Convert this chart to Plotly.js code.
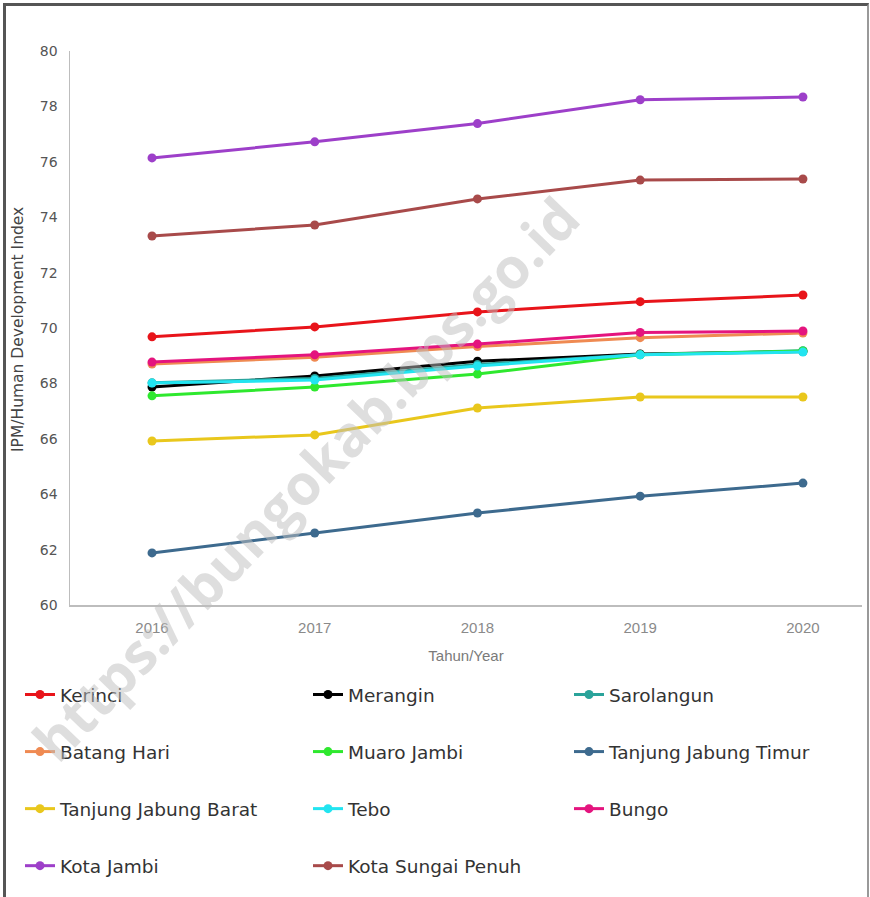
<!DOCTYPE html>
<html>
<head>
<meta charset="utf-8">
<script src="https://cdn.plot.ly/plotly-3.0.1.min.js"></script>
<style>
  html, body { margin: 0; padding: 0; background: #fff; }
  #wrap { position: relative; width: 870px; height: 897px; }
  #chart { width: 870px; height: 897px; }
  #frame { position: absolute; left: 3px; top: 3px; width: 861px; height: 900px;
           border-left: 3px solid #555; border-top: 3px solid #555; border-right: 2px solid #999;
           pointer-events: none; }
</style>
</head>
<body>
<div id="wrap">
  <div id="chart"></div>
  <div id="frame"></div>
</div>
<script>
const years = [2016, 2017, 2018, 2019, 2020];

const kerinci          = [69.68, 70.04, 70.58, 70.95, 71.19];
const merangin         = [67.87, 68.27, 68.80, 69.06, 69.15];
const sarolangun       = [68.02, 68.18, 68.68, 69.04, 69.18];
const batangHari       = [68.70, 68.94, 69.33, 69.65, 69.82];
const muaroJambi       = [67.55, 67.87, 68.34, 69.03, 69.17];
const tanjabTimur      = [61.88, 62.60, 63.32, 63.93, 64.40];
const tanjabBarat      = [65.92, 66.14, 67.11, 67.51, 67.51];
const tebo             = [68.01, 68.12, 68.63, 69.03, 69.13];
const bungo            = [68.77, 69.03, 69.42, 69.84, 69.89];
const kotaJambi        = [76.14, 76.72, 77.38, 78.24, 78.34];
const kotaSungaiPenuh  = [73.32, 73.72, 74.66, 75.34, 75.38];

const seriesNames = ["Kerinci", "Merangin", "Sarolangun", "Batang Hari", "Muaro Jambi",
  "Tanjung Jabung Timur", "Tanjung Jabung Barat", "Tebo", "Bungo", "Kota Jambi", "Kota Sungai Penuh"];
const seriesValues = [kerinci, merangin, sarolangun, batangHari, muaroJambi,
  tanjabTimur, tanjabBarat, tebo, bungo, kotaJambi, kotaSungaiPenuh];
const seriesColors = ["#e8141a", "#000000", "#2aa39a", "#ef8a52", "#2ee82e",
  "#3d6a8e", "#e9c71c", "#22e4f0", "#e4147e", "#9d3fc9", "#a84a4a"];
// legend column for each series (3-column layout, row-major)
const legendCols = ["legend", "legend2", "legend3", "legend", "legend2", "legend3",
  "legend", "legend2", "legend3", "legend", "legend2"];

const traces = seriesNames.map((name, i) => ({
  type: "scatter",
  mode: "lines+markers",
  name: name,
  x: years,
  y: seriesValues[i],
  line: { color: seriesColors[i], width: 3 },
  marker: { color: seriesColors[i], size: 9 },
  legend: legendCols[i],
  legendgroup: "g" + i
}));

const legendFont = { family: "DejaVu Sans, sans-serif", size: 18.5, color: "#333" };
function mkLegend(xpx) {
  return {
    xref: "container", yref: "container",
    x: xpx / 870, y: 1 - 676 / 897,
    xanchor: "left", yanchor: "top",
    orientation: "v",
    traceorder: "grouped",
    tracegroupgap: 30,
    itemwidth: 30,
    font: legendFont,
    bgcolor: "rgba(0,0,0,0)",
    borderwidth: 0
  };
}

const layout = {
  width: 870, height: 897,
  margin: { l: 70, r: 8, t: 51, b: 292, autoexpand: false },
  paper_bgcolor: "#fff",
  plot_bgcolor: "#fff",
  showlegend: true,
  xaxis: {
    type: "linear",
    range: [2015.496, 2020.363],
    tickvals: years,
    ticktext: years.map(String),
    showgrid: false,
    zeroline: false,
    showline: true,
    linecolor: "#bdbdbd",
    linewidth: 1.5,
    ticks: "",
    ticklabelstandoff: 8,
    tickfont: { family: "Liberation Sans, Arial, sans-serif", size: 15, color: "#8a8a8a" },
    title: { text: "Tahun/Year",
             font: { family: "Liberation Sans, Arial, sans-serif", size: 15, color: "#7a7a7a" } }
  },
  yaxis: {
    range: [60, 80],
    dtick: 2,
    showgrid: false,
    zeroline: false,
    showline: true,
    linecolor: "#bdbdbd",
    linewidth: 1.5,
    ticks: "",
    ticklabelstandoff: 8,
    tickfont: { family: "DejaVu Sans, sans-serif", size: 14, color: "#555" }
  },
  legend: mkLegend(20),
  legend2: mkLegend(308),
  legend3: mkLegend(569),
  annotations: [
    {
      xref: "paper", yref: "paper",
      x: (18 - 70) / 792, y: (605 - 330) / 554,
      xanchor: "center", yanchor: "middle",
      text: "IPM/Human Development Index",
      showarrow: false,
      textangle: -90,
      font: { family: "DejaVu Sans, sans-serif", size: 15.5, color: "#444" }
    },
    {
      xref: "paper", yref: "paper",
      x: (305 - 70) / 792, y: (605 - 478) / 554,
      xanchor: "center", yanchor: "middle",
      text: "<b>https://bungokab.bps.go.id</b>",
      showarrow: false,
      textangle: -46,
      font: { family: "Open Sans, sans-serif", size: 56, color: "rgba(190,190,190,0.5)" }
    }
  ]
};

Plotly.newPlot("chart", traces, layout, { displayModeBar: false, staticPlot: true });
</script>
</body>
</html>
